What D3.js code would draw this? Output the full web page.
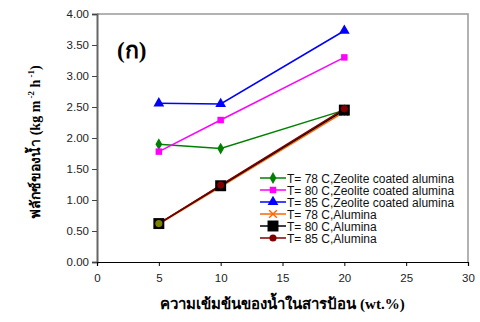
<!DOCTYPE html>
<html lang="th">
<head>
<meta charset="UTF-8">
<title>Water flux</title>
<script src="https://d3js.org/d3.v7.min.js"></script>
<style>
  body { margin: 0; background: #fff; }
  text { font-family: "Liberation Sans", Arial, sans-serif; }
</style>
</head>
<body>
<div id="chart"></div>
<script>
  const xValues = [5, 10, 20];
  const seriesNames = [
    'T= 78 C,Zeolite coated alumina',
    'T= 80 C,Zeolite coated alumina',
    'T= 85 C,Zeolite coated alumina',
    'T= 78 C,Alumina',
    'T= 80 C,Alumina',
    'T= 85 C,Alumina'
  ];
  const zeolite78 = [1.90, 1.83, 2.45];
  const zeolite80 = [1.78, 2.29, 3.30];
  const zeolite85 = [2.56, 2.55, 3.73];
  const alumina78 = [0.61, 1.21, 2.42];
  const alumina80 = [0.62, 1.23, 2.45];
  const alumina85 = [0.62, 1.24, 2.47];
  const yTicks = [0, 0.5, 1, 1.5, 2, 2.5, 3, 3.5, 4];
  const xTicks = [0, 5, 10, 15, 20, 25, 30];

  const series = [
    { name: seriesNames[0], values: zeolite78, color: '#008000', marker: 'diamond', size: 40 },
    { name: seriesNames[1], values: zeolite80, color: '#ff00ff', marker: 'square', size: 42 },
    { name: seriesNames[2], values: zeolite85, color: '#0000ff', marker: 'triangle', size: 50 },
    { name: seriesNames[3], values: alumina78, color: '#ff6600', marker: 'cross', size: 40 },
    { name: seriesNames[4], values: alumina80, color: '#000000', marker: 'square', size: 120 },
    { name: seriesNames[5], values: alumina85, color: '#800000', marker: 'circle', size: 40 }
  ];

  const width = 480, height = 322;
  const margin = { left: 97, right: 12, top: 14, bottom: 60 };

  const svg = d3.select('#chart').append('svg')
    .attr('width', width)
    .attr('height', height);

  const x = d3.scaleLinear().domain([0, 30]).range([margin.left, width - margin.right]);
  const y = d3.scaleLinear().domain([0, 4]).range([height - margin.bottom, margin.top]);

  // frame top and right
  svg.append('path')
    .attr('d', `M${x(0)},${y(4)}H${x(30)}V${y(0)}`)
    .attr('fill', 'none')
    .attr('stroke', '#999')
    .attr('stroke-width', 1.5);

  const yAxis = svg.append('g')
    .attr('transform', `translate(${x(0)},0)`)
    .call(d3.axisLeft(y).tickValues(yTicks).tickFormat(d3.format('.2f')).tickSize(5).tickPadding(3));
  yAxis.select('.domain').attr('stroke', '#666').attr('stroke-width', 2);
  yAxis.selectAll('.tick line').attr('stroke', '#444');
  yAxis.selectAll('text').attr('font-size', 11.5).attr('fill', '#222');

  const xAxis = svg.append('g')
    .attr('transform', `translate(0,${y(0)})`)
    .call(d3.axisBottom(x).tickValues(xTicks).tickSize(4).tickPadding(8));
  xAxis.select('.domain').attr('stroke', '#000').attr('stroke-width', 1.2);
  xAxis.selectAll('.tick line').attr('stroke', '#000');
  xAxis.selectAll('text').attr('font-size', 11.5).attr('fill', '#222');

  const symbolType = {
    diamond: d3.symbolDiamond,
    square: d3.symbolSquare,
    triangle: d3.symbolTriangle,
    cross: d3.symbolX,
    circle: d3.symbolCircle
  };

  const line = d3.line().x((d, i) => x(xValues[i])).y(d => y(d));

  series.forEach(s => {
    svg.append('path')
      .attr('d', line(s.values))
      .attr('fill', 'none')
      .attr('stroke', s.color)
      .attr('stroke-width', 1.5);
  });

  series.forEach((s, si) => {
    s.values.forEach((v, i) => {
      const fill = (si === 5 && i === 0) ? '#808000' : s.color;
      svg.append('path')
        .attr('d', d3.symbol(symbolType[s.marker], s.size)())
        .attr('transform', `translate(${x(xValues[i])},${y(v)})`)
        .attr('fill', s.marker === 'cross' ? 'none' : fill)
        .attr('stroke', s.marker === 'cross' ? s.color : 'none')
        .attr('stroke-width', 1.5);
    });
  });

  // legend
  const legend = svg.append('g').attr('transform', 'translate(260,178)');
  series.forEach((s, i) => {
    const ly = i * 12;
    const g = legend.append('g').attr('transform', `translate(0,${ly})`);
    g.append('line').attr('x1', 0).attr('x2', 26).attr('y1', 0).attr('y2', 0)
      .attr('stroke', s.color).attr('stroke-width', 1.5);
    g.append('path')
      .attr('d', d3.symbol(symbolType[s.marker], s.size)())
      .attr('transform', 'translate(13,0)')
      .attr('fill', s.marker === 'cross' ? 'none' : s.color)
      .attr('stroke', s.marker === 'cross' ? s.color : 'none')
      .attr('stroke-width', 1.5);
    g.append('text').attr('x', 27).attr('y', 4.5)
      .attr('font-size', 12).attr('fill', '#111')
      .text(s.name);
  });

  // panel label
  svg.append('text')
    .attr('x', 117).attr('y', 58)
    .attr('font-size', 23).attr('font-weight', 'bold')
    .style('font-family', '"Liberation Serif", serif')
    .text('(ก)');

  // axis titles
  svg.append('text')
    .attr('x', x(15)).attr('y', 309)
    .attr('text-anchor', 'middle')
    .attr('font-size', 15).attr('font-weight', 'bold')
    .style('font-family', '"Liberation Serif", serif')
    .text('ความเข้มข้นของน้ำในสารป้อน (wt.%)');

  const yt = svg.append('text')
    .attr('transform', `translate(40,${(y(0) + y(4)) / 2 + 4}) rotate(-90)`)
    .attr('text-anchor', 'middle')
    .attr('font-size', 14).attr('font-weight', 'bold')
    .style('font-family', '"Liberation Serif", serif');
  yt.append('tspan').text('ฟลักซ์ของน้ำ (kg m');
  yt.append('tspan').attr('dy', -6).attr('font-size', 9).text(' -2');
  yt.append('tspan').attr('dy', 6).text(' h');
  yt.append('tspan').attr('dy', -6).attr('font-size', 9).text(' -1');
  yt.append('tspan').attr('dy', 6).text(')');
</script>
</body>
</html>
